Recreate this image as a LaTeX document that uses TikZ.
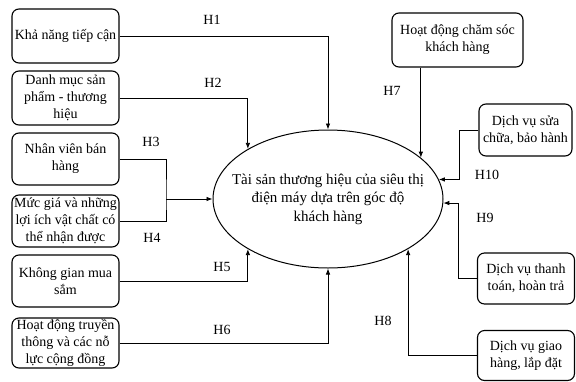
\documentclass[tikz,border=0pt]{standalone}
\usepackage{fontspec}
\setmainfont{Liberation Serif}
\usetikzlibrary{arrows.meta,shapes.geometric}
\begin{document}
\begin{tikzpicture}[x=1pt,y=-1pt, line width=0.8pt,
  every node/.style={font=\fontsize{14pt}{17pt}\selectfont},
  box/.style={draw,line width=1.1pt,rounded corners=7pt,align=center,inner sep=0.5pt,minimum width=107pt,minimum height=52pt},
  rbox/.style={box,minimum width=97pt,minimum height=51pt},
  arr/.style={-{Latex[length=6pt,width=4.5pt]}}]
\useasboundingbox (0,0) rectangle (576,381);
\node[draw,line width=1pt,ellipse,inner sep=-20pt,minimum width=230pt,minimum height=138pt,align=center,font=\fontsize{15pt}{18.5pt}\selectfont] (ell) at (328,199) {Tài sản thương hiệu của siêu thị\\điện máy dựa trên góc độ\\khách hàng};
\node[box,minimum height=54pt] (k1) at (65.5,36) {Khả năng tiếp cận};
\node[box,minimum height=54pt] (k2) at (65.5,98) {Danh mục sản\\phẩm - thương\\hiệu};
\node[box] (k3) at (65.5,159) {Nhân viên bán\\hàng};
\node[box] (k4) at (65.5,221) {Mức giá và những\\lợi ích vật chất có\\thể nhận được};
\node[box] (k5) at (65.5,281) {Không gian mua\\sắm};
\node[box,minimum height=50pt] (k6) at (65.5,343) {Hoạt động truyền\\thông và các nỗ\\lực cộng đồng};
\node[box,minimum width=131pt,minimum height=54pt] (t7) at (457.5,40) {Hoạt động chăm sóc\\khách hàng};
\node[rbox,minimum width=93pt,minimum height=52pt] (r1) at (525.5,130) {Dịch vụ sửa\\chữa, bảo hành};
\node[rbox] (r2) at (526,278.5) {Dịch vụ thanh\\toán, hoàn trả};
\node[rbox,minimum height=50pt] (r3) at (526,355.5) {Dịch vụ giao\\hàng, lắp đặt};
\coordinate (join) at (166,199);
\draw[arr] (k1.east) -| (ell.north);
\draw[arr] (k2.east) -| (ell.148.8);
\draw (k3.east) -| (join) |- (k4.east);
\draw[arr] (join) -- (ell.west);
\draw[arr] (k5.east) -| (ell.-148.8);
\draw[arr] (k6.east) -| (ell.south);
\draw[arr] (ell.24.9 |- t7.south) -- (ell.24.9);
\draw[arr] (r1.west) -- ++(-19,0) |- (ell.10.3);
\draw[arr] (r2.west) -- ++(-19,0) |- (ell.-2);
\draw[arr] (r3.west) -| (ell.-32.4);
\node (h1) at (212,20) {H1};
\node (h2) at (213,83) {H2};
\node (h3) at (151,142) {H3};
\node (h4) at (152,238) {H4};
\node (h5) at (222,267) {H5};
\node (h6) at (222,330) {H6};
\node (h7) at (392,91) {H7};
\node (h8) at (383,321) {H8};
\node (h9) at (485,218) {H9};
\node (h10) at (487,175) {H10};
\end{tikzpicture}
\end{document}
